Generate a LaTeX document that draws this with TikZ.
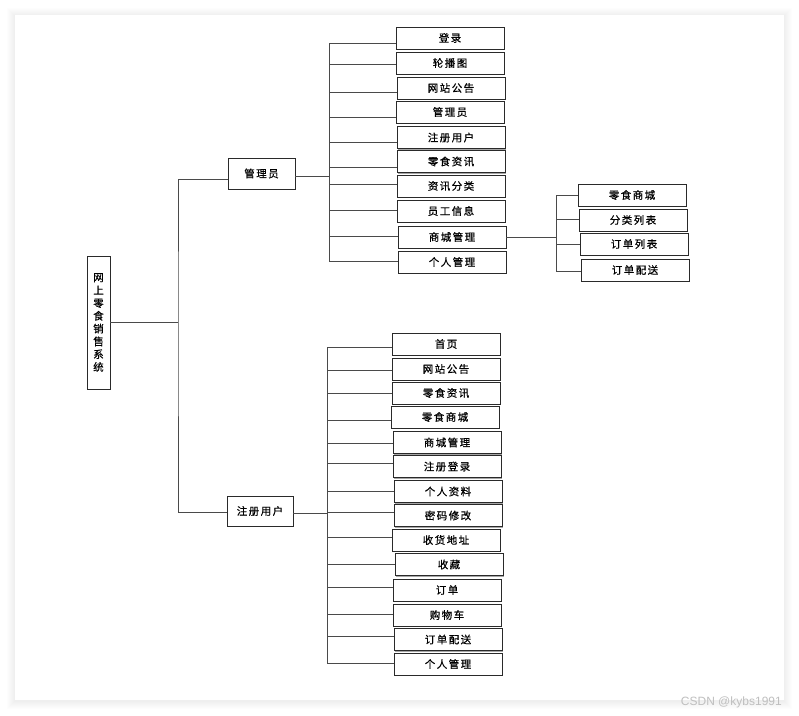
\documentclass[tikz,border=0pt]{standalone}
\usepackage{fontspec}
\newfontfamily\cjk[LetterSpace=14,FakeBold=0.6]{Noto Sans CJK SC}
\newfontfamily\cjkv[FakeBold=0.6]{Noto Sans CJK SC}
\newfontfamily\wmfont{Liberation Sans}
\usetikzlibrary{shadows}
\definecolor{linec}{HTML}{4A4A4A}
\definecolor{boxc}{HTML}{2A2A2A}
\tikzset{
  leaf/.style={draw=boxc, line width=0.8pt, fill=white, minimum width=108, minimum height=22, inner sep=0pt,
    font=\cjk\fontsize{10.5}{12}\selectfont,
    general shadow={fill=black!35, shadow xshift=1.2pt, shadow yshift=-1.2pt}},
  midbox/.style={leaf, minimum width=67, minimum height=31},
  conn/.style={draw=linec, line width=0.9pt},
}
\begin{document}
\begin{tikzpicture}[x=1pt,y=-1pt]
\useasboundingbox (0,0) rectangle (799,715);
\fill[white] (0,0) rectangle (799,715);
% panel shadow
\foreach \i in {1,...,8}{
  \fill[black, fill opacity=0.007] (15-\i,15-\i+1) rectangle (784+\i,700+\i+1);
}
\fill[white] (15,15) rectangle (784,700);

% root
\node[draw=boxc, line width=0.8pt, fill=white, minimum width=23, minimum height=133, inner sep=0pt,
  align=center, font=\cjkv\fontsize{10.5}{12.8}\selectfont,
  general shadow={fill=black!35, shadow xshift=1.2pt, shadow yshift=-1.2pt}]
  (root) at (98.5,322.5) {网\\上\\零\\食\\销\\售\\系\\统};

% level 2
\node[midbox] (adm) at (261.5,173.5) {管理员};
\node[midbox, minimum width=66, minimum height=30] (usr) at (260,511) {注册用户};

\coordinate (trunk) at (178,322);
\coordinate (abr) at (329,0);
\coordinate (cbr) at (327,0);
\coordinate (sbr) at (556,0);

\draw[conn] (root.east |- trunk) -- (trunk);
\draw[conn] ([yshift=-5.5pt]adm.west) -| (trunk) |- ([yshift=-1pt]usr.west);

% admin leaves
\foreach \n/\t/\l/\c/\d in {
  1/登录/396/38/-5,
  2/轮播图/396/63/-1,
  3/网站公告/397/88/-4,
  4/管理员/396/112/-5,
  5/注册用户/397/137.5/-4.5,
  6/零食资讯/397/161.5/-5.5,
  7/资讯分类/397/186/2,
  8/员工信息/397/211/1,
  9/商城管理/398/237/1,
  10/个人管理/398/262/1}{
  \node[leaf] (a\n) at (\l+54,\c) {\t};
  \draw[conn] ([yshift=\d pt]a\n.west) -- ([yshift=\d pt]a\n.west -| abr);
}
\draw[conn] ([yshift=-5pt]a1.west -| abr) -- ([yshift=1pt]a10.west -| abr);
\draw[conn] ([yshift=-2.5pt]adm.east) -- ([yshift=-2.5pt]adm.east -| abr);

% shop management sub leaves
\foreach \n/\t/\l/\c/\d in {
  1/零食商城/578/195/0,
  2/分类列表/579/220/1,
  3/订单列表/580/244/0,
  4/订单配送/581/270/-1}{
  \node[leaf] (s\n) at (\l+54,\c) {\t};
  \draw[conn] ([yshift=\d pt]s\n.west) -- ([yshift=\d pt]s\n.west -| sbr);
}
\draw[conn] (s1.west -| sbr) -- ([yshift=-1pt]s4.west -| sbr);
\draw[conn] (a9.east) -- (a9.east -| sbr);

% user leaves
\foreach \n/\t/\l/\c/\d in {
  1/首页/392/344/-3,
  2/网站公告/392/369/-1,
  3/零食资讯/392/393/0,
  4/零食商城/391/417/-3,
  5/商城管理/393/442.5/-0.5,
  6/注册登录/393/466.5/3.5,
  7/个人资料/394/491.5/0.5,
  8/密码修改/394/515.5/3.5,
  9/收货地址/392/540/3,
  10/收藏/395/564.5/0.5,
  11/订单/393/590/3,
  12/购物车/393/615/1,
  13/订单配送/394/639.5/3.5,
  14/个人管理/394/664/1}{
  \node[leaf] (c\n) at (\l+54,\c) {\t};
  \draw[conn] ([yshift=\d pt]c\n.west) -- ([yshift=\d pt]c\n.west -| cbr);
}
\draw[conn] ([yshift=-3pt]c1.west -| cbr) -- ([yshift=1pt]c14.west -| cbr);
\draw[conn] ([yshift=-2pt]usr.east) -- ([yshift=-2pt]usr.east -| cbr);

% watermark
\node[anchor=east, inner sep=0pt, text=black!25, font=\wmfont\fontsize{12}{14}\selectfont] (wm) at (782,702) {CSDN @kybs1991};
\end{tikzpicture}
\end{document}
